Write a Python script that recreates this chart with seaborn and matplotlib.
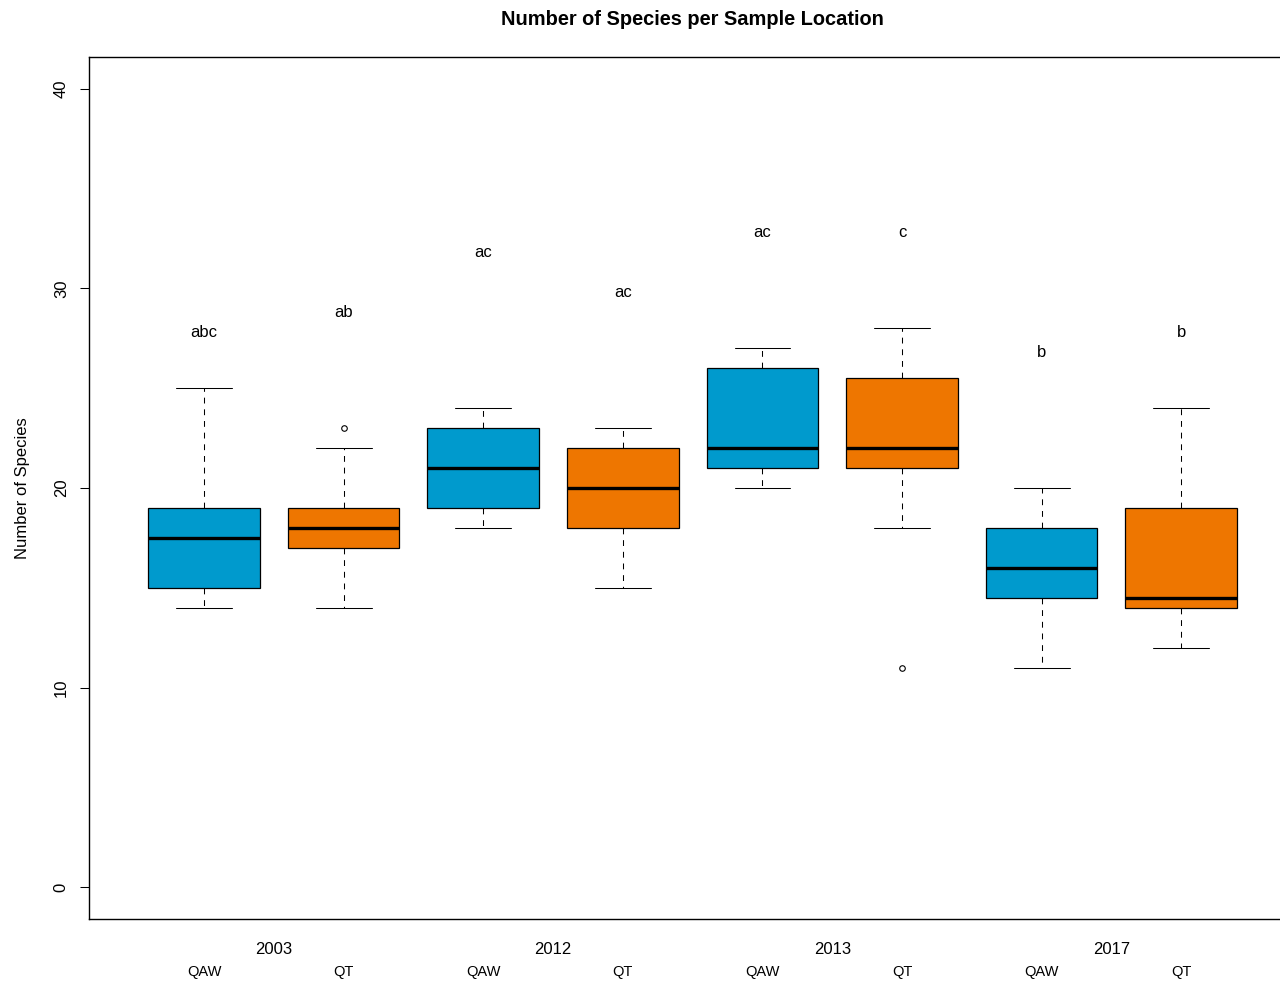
import matplotlib
matplotlib.use("Agg")
import matplotlib.pyplot as plt
from matplotlib.transforms import blended_transform_factory, offset_copy
import seaborn as sns

# Five-number summaries per year / site group
years = ["2003", "2012", "2013", "2017"]
sites = ["QAW", "QT"]
group_sites = ["QAW", "QT", "QAW", "QT", "QAW", "QT", "QAW", "QT"]
whisker_low = [14, 14, 18, 15, 20, 18, 11, 12]
lower_hinge = [15, 17, 19, 18, 21, 21, 14.5, 14]
medians = [17.5, 18, 21, 20, 22, 22, 16, 14.5]
upper_hinge = [19, 19, 23, 22, 26, 25.5, 18, 19]
whisker_high = [25, 22, 24, 23, 27, 28, 20, 24]
outliers = [[], [23], [], [], [], [11], [], []]

# Significance letters and their heights
letters = ["abc", "ab", "ac", "ac", "ac", "c", "b", "b"]
letter_y = [28, 29, 32, 30, 33, 33, 27, 28]

site_colors = {"QAW": "#009ACD", "QT": "#EE7600"}

sns.set_style("white")
plt.rcParams["font.family"] = ["Liberation Sans", "DejaVu Sans"]
plt.rcParams["lines.scale_dashes"] = False
plt.rcParams["text.color"] = "black"
plt.rcParams["axes.labelcolor"] = "black"
plt.rcParams["xtick.color"] = "black"
plt.rcParams["ytick.color"] = "black"

fig = plt.figure(figsize=(12.8, 9.81), dpi=100)
ax = fig.add_axes([89 / 1280, 62 / 981, 1207 / 1280, 862 / 981])

positions = list(range(1, len(medians) + 1))
stats = []
for i in range(len(medians)):
    stats.append(dict(med=medians[i], q1=lower_hinge[i], q3=upper_hinge[i],
                      whislo=whisker_low[i], whishi=whisker_high[i],
                      fliers=outliers[i]))

bp = ax.bxp(stats, positions=positions, widths=0.8, capwidths=0.4,
            patch_artist=True,
            boxprops=dict(edgecolor="black", linewidth=0.9),
            medianprops=dict(color="black", linewidth=2.4),
            whiskerprops=dict(color="black", linewidth=0.75,
                              linestyle=(0, (4.2, 4.2))),
            capprops=dict(color="black", linewidth=0.75),
            flierprops=dict(marker="o", markerfacecolor="none",
                            markeredgecolor="black", markersize=4,
                            markeredgewidth=0.8))
for patch, site in zip(bp["boxes"], group_sites):
    patch.set_facecolor(site_colors[site])

letter_trans = offset_copy(ax.transData, fig=fig, x=0, y=-3, units="points")
for x, txt, y in zip(positions, letters, letter_y):
    ax.text(x, y, txt, ha="center", va="center", fontsize=12,
            transform=letter_trans)

ax.set_xlim(0.176, 8.822)
ax.set_ylim(-1.6, 41.6)
ax.set_yticks([0, 10, 20, 30, 40])
ax.tick_params(axis="y", direction="out", length=6.5, width=0.75,
               labelsize=12, labelrotation=90, pad=8, left=True)
for lab in ax.get_yticklabels():
    lab.set_va("center")

ax.set_xticks(positions)
ax.set_xticklabels(group_sites, fontsize=10.5)
ax.tick_params(axis="x", length=0, pad=33)

trans = blended_transform_factory(ax.transData, ax.transAxes)
for k, yr in enumerate(years):
    ax.text(2 * k + 1.5, -30 / 862, yr, transform=trans, ha="center",
            va="center", fontsize=12)

for sp in ax.spines.values():
    sp.set_color("black")
    sp.set_linewidth(1.0)

ax.set_ylabel("Number of Species", fontsize=12, labelpad=17)
ax.set_title("Number of Species per Sample Location", fontsize=14.4,
             fontweight="bold", pad=23)

fig.savefig("out.png", dpi=100)
